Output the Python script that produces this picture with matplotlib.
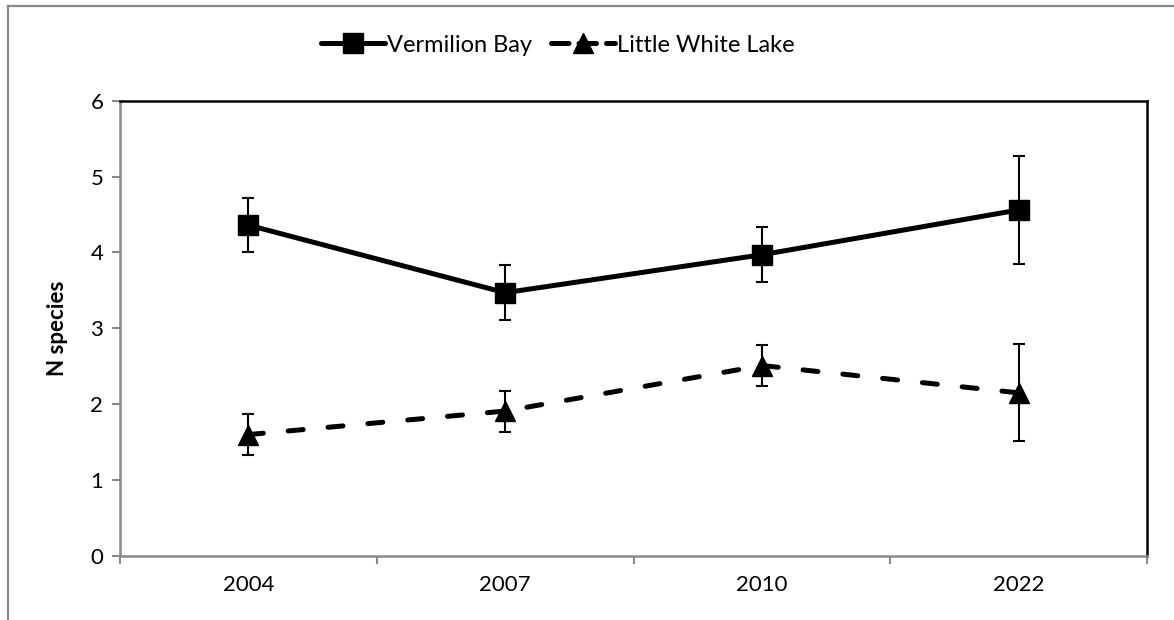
import matplotlib.pyplot as plt
from matplotlib.lines import Line2D

# data
years = ['2004', '2007', '2010', '2022']
vermilion = [4.36, 3.47, 3.97, 4.56]
vermilion_err = [0.36, 0.36, 0.36, 0.71]
little_white = [1.60, 1.91, 2.51, 2.15]
little_white_err = [0.27, 0.27, 0.27, 0.64]

plt.rcParams['font.family'] = ['Lato', 'DejaVu Sans']

W, H = 1174, 620
fig = plt.figure(figsize=(W / 100, H / 100), dpi=100)
ax = fig.add_axes([120 / W, 1 - 556 / H, (1147 - 120) / W, (556 - 100.7) / H])

x = list(range(len(years)))
gray = '#898989'
dash = (0, (3, 5))

ax.errorbar(x, vermilion, yerr=vermilion_err, color='black', lw=3.6,
            marker='s', markersize=14, ecolor='black', elinewidth=1.5,
            capsize=4.5, capthick=1.5, solid_capstyle='round', zorder=3)
ax.errorbar(x, little_white, yerr=little_white_err, color='black', lw=3.6,
            linestyle=dash, dash_capstyle='round',
            marker='^', markersize=14, ecolor='black', elinewidth=1.5,
            capsize=4.5, capthick=1.5, zorder=3)

ax.set_xlim(-0.5, 3.5)
ax.set_ylim(0, 6)
ax.set_yticks(range(7))
ax.set_xticks(x)
ax.set_xticklabels(years)
ax.set_xticks([-0.5, 0.5, 1.5, 2.5, 3.5], minor=True)

ax.tick_params(axis='x', which='major', length=0, pad=14, labelsize=16)
ax.tick_params(axis='x', which='minor', length=6, width=1.5, color=gray, direction='out')
ax.tick_params(axis='y', length=6, width=1.5, color=gray, pad=6, labelsize=16)

for s in ['left', 'bottom']:
    ax.spines[s].set_color(gray)
    ax.spines[s].set_linewidth(1.8)
for s in ['top', 'right']:
    ax.spines[s].set_color('black')
    ax.spines[s].set_linewidth(1.8)

ax.set_ylabel('N species', fontsize=16, fontweight='bold')
ax.yaxis.set_label_coords(-0.051, 0.5)

handles = [
    Line2D([], [], color='black', lw=3.6, marker='s', markersize=14,
           solid_capstyle='round'),
    Line2D([], [], color='black', lw=3.6, linestyle=(0, (3.5, 2)),
           dash_capstyle='round', marker='^', markersize=14),
]
fig.legend(handles, ['Vermilion Bay', 'Little White Lake'], loc='center',
           bbox_to_anchor=(0.475, 0.927), ncol=2, frameon=False, fontsize=17,
           handlelength=2.7, handletextpad=0.1, columnspacing=0.8)

# outer chart border (left and top only visible)
fig.add_artist(Line2D([7.5 / W, 7.5 / W], [0, 1 - 6 / H], color=gray, lw=1.6,
                      transform=fig.transFigure))
fig.add_artist(Line2D([7.5 / W, 1], [1 - 6 / H, 1 - 6 / H], color=gray, lw=1.6,
                      transform=fig.transFigure))

fig.savefig('out.png', dpi=100)
